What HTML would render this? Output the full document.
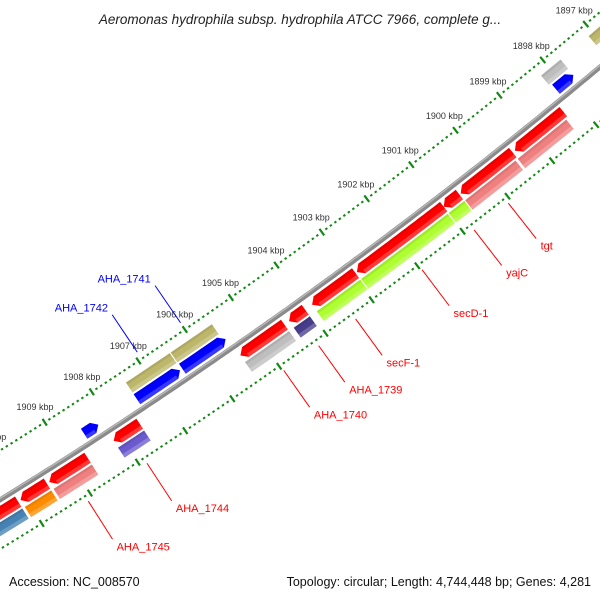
<!DOCTYPE html>
<html><head><meta charset="utf-8"><style>
html,body{margin:0;padding:0;background:#fff}
svg{display:block}
text{font-family:"Liberation Sans",sans-serif}
</style></head><body>
<svg id="map" width="600" height="600" viewBox="0 0 600 600" xmlns="http://www.w3.org/2000/svg">
<rect width="600" height="600" fill="#fff"/>
<text x="300" y="24" text-anchor="middle" font-size="13.5" font-style="italic" fill="#222">Aeromonas hydrophila subsp. hydrophila ATCC 7966, complete g...</text>
<g id="gBackbone"></g><g id="gTicks"></g><g id="gFeat"></g><g id="gLabels"></g>
<text x="9" y="586" font-size="12.5" fill="#111">Accession: NC_008570</text>
<text x="591" y="586" text-anchor="end" font-size="12.5" fill="#111">Topology: circular; Length: 4,744,448 bp; Genes: 4,281</text>
</svg>
<script>
// feature data (kbp)
const featNames=["olive-1897","gray-1898","blue-1898","olive-a","olive-b","blue-a","blue-b","blue-small",
"red-1","red-2","red-3","red-4","red-5","red-6","red-7","red-8","red-9","red-10","red-11",
"pink-1","pink-2","green-1","green-2","green-3","purple-1739","gray-1740","purple-1744","pink-1745","orange-1","steel-1"];
const featStart=[1896.4,1897.75,1897.75,1905.55,1906.46,1905.5,1906.48,1908.22,
1898.3,1899.45,1900.65,1901.0,1902.95,1904.05,1904.5,1907.6,1908.7,1909.55,1910.15,
1898.35,1899.5,1900.65,1901.02,1902.95,1904.05,1904.5,1907.6,1908.7,1909.55,1910.15];
const featEnd=[1897.1,1898.2,1898.15,1906.44,1907.4,1906.43,1907.4,1908.52,
1899.4,1900.62,1901.0,1902.92,1903.9,1904.4,1905.45,1908.15,1909.5,1910.1,1910.9,
1899.45,1900.63,1901.0,1902.93,1903.9,1904.4,1905.45,1908.15,1909.5,1910.1,1911.0];
const featRing=[-2,-2,-1,-2,-2,-1,-1,-1, 1,1,1,1,1,1,1,1,1,1,1, 2,2,2,2,2,2,2,2,2,2,2];
const featColor=["#bdb76b","#bebebe","#0000ff","#bdb76b","#bdb76b","#0000ff","#0000ff","#0000ff",
"#ff0000","#ff0000","#ff0000","#ff0000","#ff0000","#ff0000","#ff0000","#ff0000","#ff0000","#ff0000","#ff0000",
"#f08080","#f08080","#adff2f","#adff2f","#adff2f","#483d8b","#bebebe","#6a5acd","#f08080","#ff8c00","#4682b4"];
const featArrow=["","","lo","","","lo","lo","lo","hi","hi","hi","hi","hi","hi","hi","hi","hi","hi","hi","","","","","","","","","","",""];
const featLabel=["","","","AHA_1741","AHA_1742","","","","","","","","","","","","","","",
"","tgt","yajC","secD-1","secF-1","AHA_1739","AHA_1740","AHA_1744","AHA_1745","",""];
const tickKbp=[1895,1896,1897,1898,1899,1900,1901,1902,1903,1904,1905,1906,1907,1908,1909,1910,1911,1912];

const NS="http://www.w3.org/2000/svg";
const C=[-2687,-3856],R0=5118,A0=51.75,K=0.6324;
function P(kb,d){const t=(A0+(kb-1900)*K)*Math.PI/180;return [C[0]+(R0+d)*Math.cos(t),C[1]+(R0+d)*Math.sin(t)];}
function arc(a,b,d){const n=Math.max(2,Math.ceil(Math.abs(b-a)*10));const r=[];for(let i=0;i<=n;i++){r.push(P(a+(b-a)*i/n,d));}return r;}
function mk(tag,parent,attrs){const e=document.createElementNS(NS,tag);for(const k in attrs)e.setAttribute(k,attrs[k]);parent.appendChild(e);return e;}
const ringD={"-2":[-31,-19],"-1":[-17,-5],"1":[5,17],"2":[19,31]};
const pts=a=>a.map(p=>p[0].toFixed(1)+","+p[1].toFixed(1)).join(" ");

// backbone
const gB=document.getElementById("gBackbone");
const bb=mk("polyline",gB,{points:pts(arc(1894,1913,0)),fill:"none",stroke:"#8a8a8a","stroke-width":5});


const bh=mk("polyline",gB,{points:pts(arc(1894,1913,-1.3)),fill:"none",stroke:"#b8b8b8","stroke-width":1.4});



// ticks
const gT=document.getElementById("gTicks");
for(let i=tickKbp[0]*10;i<=tickKbp[tickKbp.length-1]*10;i++){
  const kb=i/10,major=(i%10===0);
  [-42,42].forEach(d=>{
    const h=major?4:1;
    const a=P(kb,d-h),b=P(kb,d+h);
    const l=mk("line",gT,{x1:a[0],y1:a[1],x2:b[0],y2:b[1],stroke:"#118811","stroke-width":major?2.2:2.4});
    
    
  });
}
tickKbp.forEach(kb=>{
  const p=P(kb,-60);
  const t=mk("text",gT,{x:p[0].toFixed(1),y:(p[1]+3).toFixed(1),"text-anchor":"middle","font-size":"9",fill:"#333"});
  t.textContent=kb+" kbp";
  
  
});

// features
const gF=document.getElementById("gFeat"),gL=document.getElementById("gLabels");
const H=0.11;
featNames.forEach((nm,i)=>{
  const a=featStart[i],b=featEnd[i],[d1,d2]=ringD[featRing[i]],dm=(d1+d2)/2;
  let poly;
  const ar=featArrow[i];
  if(ar==="hi"){poly=arc(a,b-H,d1).concat([P(b,dm)],arc(b-H,a,d2));}
  else if(ar==="lo"){poly=[P(a,dm)].concat(arc(a+H,b,d1),arc(b,a+H,d2));}
  else{poly=arc(a,b,d1).concat(arc(b,a,d2));}
  const g=mk("g",gF,{});
  
  
  mk("polygon",g,{points:pts(poly),fill:featColor[i]});
  // shading band on outer side
  const s1=d2-4;
  let band;
  if(ar==="hi"){band=arc(a,b-H*(1-(s1-dm)/(d2-dm)),s1).concat(arc(b-H,a,d2),[]);band=arc(a,b-H,s1).concat(arc(b-H,a,d2));}
  else if(ar==="lo"){band=arc(a+H,b,s1).concat(arc(b,a+H,d2));}
  else{band=arc(a,b,s1).concat(arc(b,a,d2));}
  mk("polygon",g,{points:pts(band),fill:"#fff","fill-opacity":0.22});
  const top=arc(a+(ar==="lo"?H:0),b-(ar==="hi"?H:0),d1+2.5).concat(arc(b-(ar==="hi"?H:0),a+(ar==="lo"?H:0),d1));
  mk("polygon",g,{points:pts(top),fill:"#000","fill-opacity":0.08});
  if(featLabel[i]){
    const m=(a+b)/2, up=featRing[i]<0;
    const p1=P(m,up?-50:48),p2=P(m,up?-95:93),pt=P(m,up?-99:97);
    const col=up?"#0000ff":"#ff0000";
    const ln=mk("line",gL,{x1:p1[0],y1:p1[1],x2:p2[0],y2:p2[1],stroke:col,"stroke-width":1});
    
    
    const t=mk("text",gL,{x:(pt[0]+(up?-2:2)).toFixed(1),y:(pt[1]+(up?0:8)).toFixed(1),"text-anchor":up?"end":"start","font-size":"11",fill:col});
    t.textContent=featLabel[i];
    
    
  }
});
</script>
</body></html>
